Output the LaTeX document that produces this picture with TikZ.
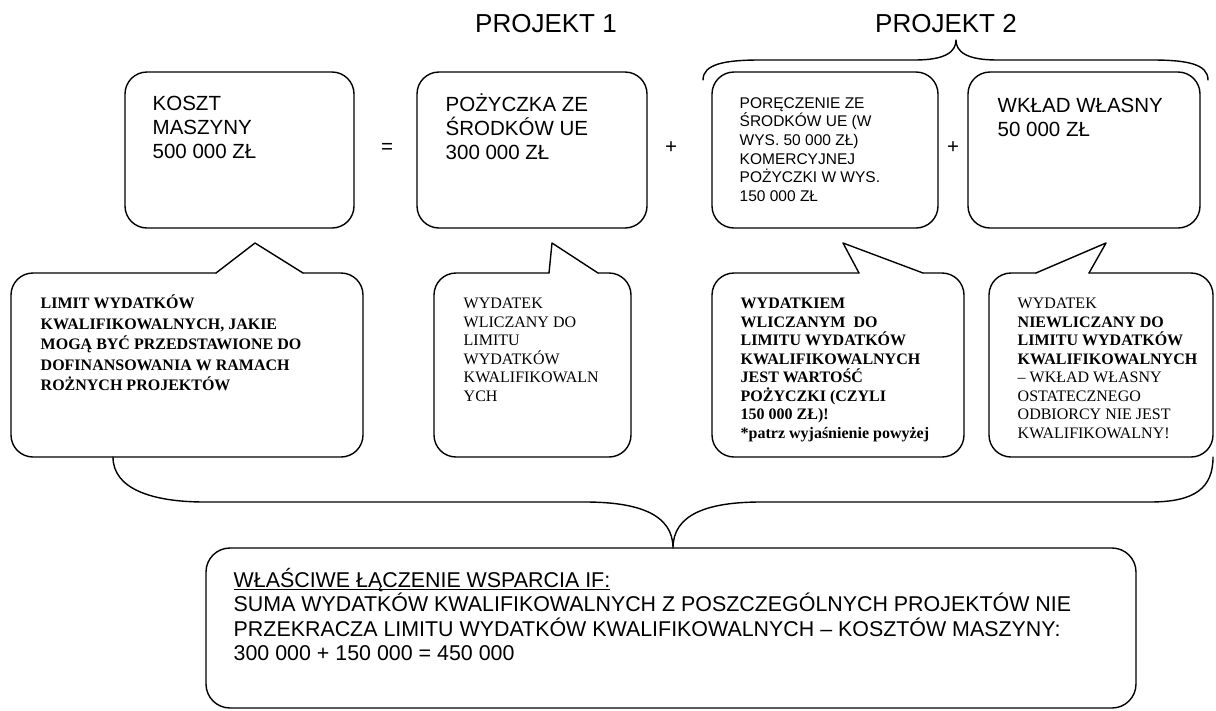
\documentclass[tikz,border=0pt]{standalone}
\usepackage{fontspec}
\setmainfont{Liberation Sans}
\newfontfamily\timesfont{Liberation Serif}
\usetikzlibrary{positioning}
\setlength{\lineskiplimit}{-20pt}

\begin{document}
\begin{tikzpicture}[x=1pt, y=-1pt, line width=1.4pt, line join=round, line cap=round,
    box/.style={draw, rounded corners=22pt, minimum height=156pt, inner sep=0pt},
    txt/.style={anchor=north west, inner sep=0pt, align=left, font=\fontsize{20.5}{24}\selectfont},
    smalltxt/.style={anchor=north west, inner sep=0pt, align=left, font=\fontsize{15.5}{18.6}\selectfont},
    note/.style={anchor=north west, inner sep=0pt, align=left, font=\timesfont\fontsize{16}{18.5}\selectfont},
    sign/.style={font=\fontsize{20.5}{24}\selectfont},
    title/.style={font=\fontsize{26}{30}\selectfont}]
                    \useasboundingbox (0, 0) rectangle (1216, 710);

                    \node[title] (proj1) at (546, 24) {PROJEKT 1};
                    \node[title] (proj2) at (946, 24) {PROJEKT 2};

                    \node[box, minimum width=229pt] (koszt) at (239.5, 150) {};
                    \node[box, minimum width=230pt] (pozyczka) at (532, 150) {};
                    \node[box, minimum width=226pt] (poreczenie) at (825, 150) {};
                    \node[box, minimum width=232pt] (wklad) at (1084, 150) {};

                    \node[txt] (kosztt) at (152, 93) {\strut KOSZT\\MASZYNY\\500 000 ZŁ};
                    \node[txt] (pozyczkat) at (445, 93) {\strut POŻYCZKA ZE\\ŚRODKÓW UE\\300 000 ZŁ};
                    \node[smalltxt] (poreczeniet) at (739, 94.5) {\strut PORĘCZENIE ZE\\ŚRODKÓW UE (W\\WYS. 50 000 ZŁ)\\KOMERCYJNEJ\\POŻYCZKI W WYS.\\150 000 ZŁ};
                    \node[txt] (wkladt) at (997, 95) {\strut WKŁAD WŁASNY\\50 000 ZŁ};

                    \node[sign] (eq) at (387, 148) {=};
                    \node[sign] (plus1) at (671, 148) {+};
                    \node[sign] (plus2) at (953, 148) {+};

                    % brace over project 2
                    \draw (703, 80) .. controls (703, 64) and (725, 60) .. (760, 60) -- (915, 60)
                        .. controls (945, 60) and (956, 52) .. (956, 40)
                        .. controls (956, 52) and (967, 60) .. (997, 60) -- (1152, 60)
                        .. controls (1187, 60) and (1208, 64) .. (1208, 80);

                    % callouts
                    \draw[rounded corners=22pt] (303, 273) -- (363, 273) -- (363, 457) -- (11, 457) -- (11, 273) -- (216, 273);
                    \draw (216, 273) -- (255, 243) -- (303, 273);
                    \draw[rounded corners=22pt] (598, 273) -- (631, 273) -- (631, 457) -- (434, 457) -- (434, 273) -- (549, 273);
                    \draw (549, 273) -- (552, 243) -- (598, 273);
                    \draw[rounded corners=22pt] (923, 273) -- (964, 273) -- (964, 457) -- (712, 457) -- (712, 273) -- (859, 273);
                    \draw (859, 273) -- (843, 243) -- (923, 273);
                    \draw[rounded corners=22pt] (1089, 273) -- (1213, 273) -- (1213, 457) -- (989, 457) -- (989, 273) -- (1036, 273);
                    \draw (1036, 273) -- (1106, 243) -- (1089, 273);

                    \node[note, font=\timesfont\bfseries\fontsize{16}{20.4}\selectfont] (limit) at (40, 294)
                        {\strut LIMIT WYDATKÓW\\KWALIFIKOWALNYCH, JAKIE\\MOGĄ BYĆ PRZEDSTAWIONE DO\\DOFINANSOWANIA W RAMACH\\ROŻNYCH PROJEKTÓW};
                    \node[note] (wliczany) at (463, 295.3)
                        {\strut WYDATEK\\WLICZANY DO\\LIMITU\\WYDATKÓW\\KWALIFIKOWALN\\YCH};
                    \node[note, font=\timesfont\bfseries\fontsize{16}{18.5}\selectfont] (wliczanym) at (740, 295.3)
                        {\strut WYDATKIEM\\WLICZANYM\ \ DO\\LIMITU WYDATKÓW\\KWALIFIKOWALNYCH\\JEST WARTOŚĆ\\POŻYCZKI (CZYLI\\150 000 ZŁ)!\\*patrz wyjaśnienie powyżej};
                    \node[note] (niewliczany) at (1017, 295.3)
                        {\strut WYDATEK\\\textbf{NIEWLICZANY DO}\\\textbf{LIMITU WYDATKÓW}\\\textbf{KWALIFIKOWALNYCH}\\– WKŁAD WŁASNY\\OSTATECZNEGO\\ODBIORCY NIE JEST\\KWALIFIKOWALNY!};

                    % brace under the callouts
                    \draw (113, 457) .. controls (113, 488) and (150, 502) .. (205, 502) -- (585, 502)
                        .. controls (640, 502) and (673, 515) .. (673, 548)
                        .. controls (673, 515) and (706, 502) .. (761, 502) -- (1150, 502)
                        .. controls (1195, 502) and (1213, 488) .. (1213, 457);

                    \node[draw, rounded corners=24pt, minimum width=930pt, minimum height=160pt] (laczenie) at (671, 628) {};
                    \node[txt, font=\fontsize{21.4}{24.5}\selectfont] (laczeniet) at (233, 569.5)
                        {\strut\underline{\smash{WŁAŚCIWE ŁĄCZENIE WSPARCIA IF:}}\\SUMA WYDATKÓW KWALIFIKOWALNYCH Z POSZCZEGÓLNYCH PROJEKTÓW NIE\\PRZEKRACZA LIMITU WYDATKÓW KWALIFIKOWALNYCH – KOSZTÓW MASZYNY:\\300 000 + 150 000 = 450 000};
                \end{tikzpicture}
\end{document}
